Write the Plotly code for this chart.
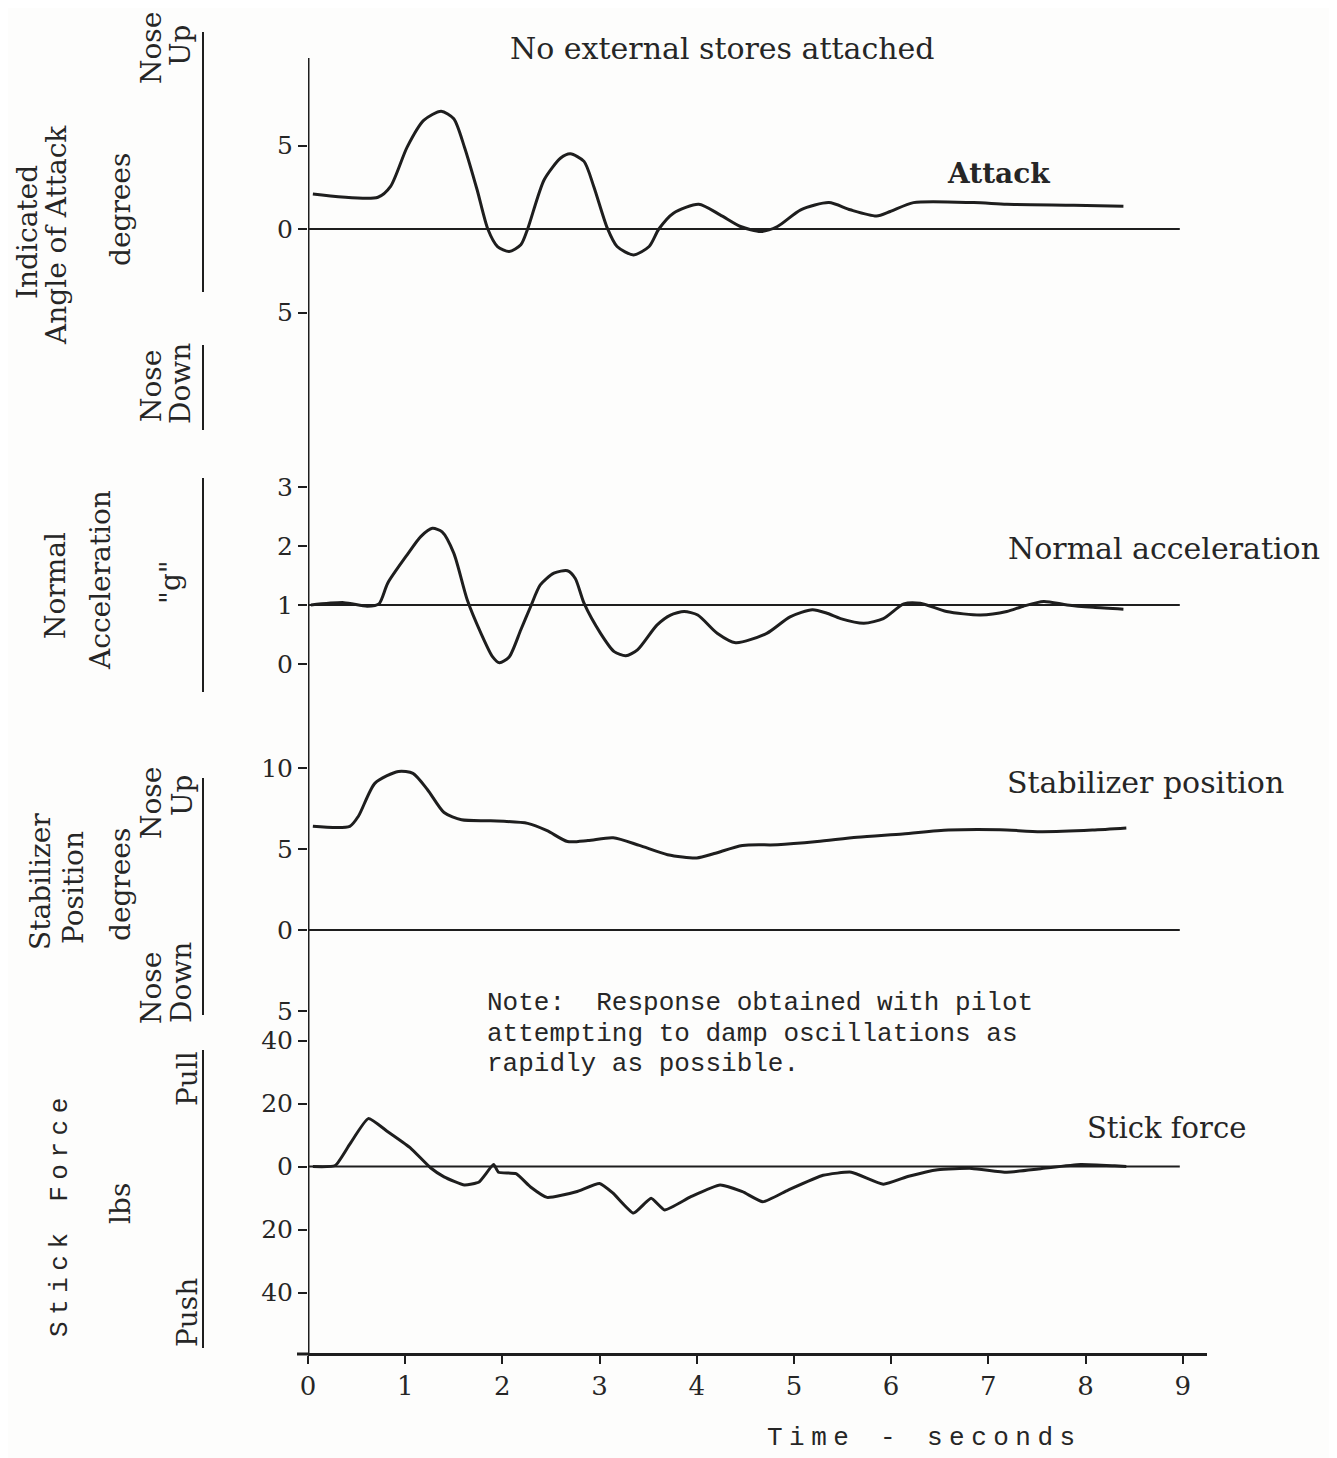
import plotly.graph_objects as go

# ---------------- data ----------------
attack_t = [0.05, 0.72, 0.85, 1.02, 1.19, 1.37, 1.50, 1.61, 1.74, 1.85, 1.95, 2.07, 2.19, 2.26,
            2.43, 2.60, 2.70, 2.84, 2.94, 3.08, 3.18, 3.35, 3.51, 3.61, 3.76, 4.02, 4.24, 4.45,
            4.66, 4.83, 5.07, 5.36, 5.58, 5.85, 5.99, 6.23, 6.85, 7.19, 7.88, 8.39]
attack_v = [2.1, 1.9, 2.55, 4.9, 6.5, 7.05, 6.6, 4.9, 2.35, 0.0, -1.05, -1.35, -0.95, 0.0,
            2.95, 4.25, 4.5, 4.05, 2.55, 0.05, -1.05, -1.55, -1.05, 0.0, 0.95, 1.48, 0.85, 0.15,
            -0.15, 0.15, 1.15, 1.58, 1.15, 0.78, 1.05, 1.58, 1.58, 1.48, 1.42, 1.36]

accel_t = [0.03, 0.37, 0.61, 0.73, 0.82, 1.02, 1.16, 1.28, 1.38, 1.50, 1.64, 1.78, 1.90, 1.97,
           2.07, 2.19, 2.29, 2.39, 2.53, 2.67, 2.75, 2.84, 3.01, 3.15, 3.27, 3.39, 3.59, 3.73,
           3.87, 4.01, 4.21, 4.40, 4.72, 4.96, 5.19, 5.34, 5.48, 5.72, 5.92, 6.13, 6.30, 6.57,
           6.92, 7.19, 7.36, 7.57, 7.81, 8.08, 8.39]
accel_v = [1.0, 1.04, 0.98, 1.02, 1.37, 1.85, 2.16, 2.30, 2.24, 1.88, 1.08, 0.52, 0.12, 0.02,
           0.12, 0.58, 0.97, 1.34, 1.54, 1.58, 1.45, 1.03, 0.52, 0.21, 0.14, 0.24, 0.66, 0.83,
           0.89, 0.83, 0.52, 0.36, 0.52, 0.80, 0.92, 0.86, 0.77, 0.69, 0.77, 1.02, 1.03, 0.89,
           0.83, 0.89, 0.98, 1.06, 1.0, 0.96, 0.93]

stab_t = [0.05, 0.43, 0.52, 0.69, 0.93, 1.08, 1.23, 1.40, 1.58, 1.88, 2.26, 2.46, 2.67, 2.88,
          3.14, 3.41, 3.70, 4.00, 4.18, 4.47, 4.83, 5.24, 5.65, 6.12, 6.59, 7.12, 7.54, 8.07, 8.42]
stab_v = [6.4, 6.4, 7.04, 9.07, 9.78, 9.67, 8.66, 7.25, 6.8, 6.74, 6.58, 6.13, 5.46, 5.52,
          5.69, 5.22, 4.65, 4.45, 4.72, 5.22, 5.26, 5.46, 5.73, 5.93, 6.17, 6.19, 6.07, 6.17, 6.30]

stick_t = [0.05, 0.28, 0.43, 0.62, 0.81, 1.05, 1.26, 1.40, 1.61, 1.76, 1.91, 1.96, 2.14, 2.29,
           2.46, 2.76, 3.00, 3.14, 3.35, 3.53, 3.67, 3.94, 4.24, 4.47, 4.68, 4.94, 5.30, 5.59,
           5.92, 6.18, 6.48, 6.83, 7.19, 7.54, 7.95, 8.30, 8.42]
stick_v = [0.0, 0.3, 7.1, 15.2, 11.3, 6.0, -0.4, -3.3, -5.9, -4.9, 0.6, -1.8, -2.3, -6.5,
           -9.8, -8.0, -5.4, -8.5, -14.8, -10.1, -13.8, -9.6, -5.9, -8.0, -11.2, -7.5, -2.8, -1.8,
           -5.6, -3.1, -1.0, -0.6, -1.8, -0.7, 0.6, 0.2, 0.0]

time_ticks = [0, 1, 2, 3, 4, 5, 6, 7, 8, 9]
attack_ticks = [5, 0, -5]
attack_ticktext = ["5", "0", "5"]
accel_ticks = [0, 1, 2, 3]
accel_ticktext = ["0", "1", "2", "3"]
stab_ticks = [10, 5, 0, -5]
stab_ticktext = ["10", "5", "0", "5"]
stick_ticks = [40, 20, 0, -20, -40]
stick_ticktext = ["40", "20", "0", "20", "40"]

ref_end = 8.97  # reference lines end near 9 s

# ---------------- layout geometry (page pixels) ----------------
PAGE_W, PAGE_H = 1337, 1458
OFF = 8                     # default body margin of the html page
W, H = PAGE_W - OFF, PAGE_H - OFF
L, R, T, B = 308, 1207, 40, 1354
INK = "#1e1e1e"
TXT = "#262626"
SERIF = "DejaVu Serif"
MONO = "Liberation Mono"


def px_x(x):
    return (x - L) / (R - L)


def px_y(y):
    return (B - y) / (B - T)


def domain(zero_px, scale, lo, hi, zero_val=0.0):
    top = zero_px - (hi - zero_val) * scale
    bot = zero_px - (lo - zero_val) * scale
    return [px_y(bot), px_y(top)]


fig = go.Figure()

ref_style = dict(color=INK, width=2)

panels = [
    ("y", attack_t, attack_v, 0, 0.7),
    ("y2", accel_t, accel_v, 1, 0.7),
    ("y3", stab_t, stab_v, 0, 0.7),
    ("y4", stick_t, stick_v, 0, 0.45),
]
for yref, tt, vv, refv, sm in panels:
    fig.add_trace(go.Scatter(x=[0, ref_end], y=[refv, refv], mode="lines", line=ref_style,
                             yaxis=yref, showlegend=False, hoverinfo="skip"))
    fig.add_trace(go.Scatter(x=tt, y=vv, mode="lines",
                             line=dict(color=INK, width=3, shape="spline", smoothing=sm),
                             yaxis=yref, showlegend=False))

yax_common = dict(showgrid=False, zeroline=False, showline=False, ticks="outside",
                  ticklen=9, tickwidth=2, tickcolor=INK, anchor="x",
                  tickfont=dict(family=SERIF, size=25, color=TXT))

fig.update_layout(
    width=W, height=H,
    margin=dict(l=L - OFF, r=PAGE_W - R, t=T - OFF, b=PAGE_H - B),
    paper_bgcolor="#fdfdfc", plot_bgcolor="#fdfdfc",
    showlegend=False,
    xaxis=dict(range=[0, 9.25], tickvals=time_ticks, ticks="outside", ticklen=8,
               tickwidth=2, tickcolor=INK, showline=True, linewidth=3, linecolor=INK,
               showgrid=False, zeroline=False, anchor="free", position=0,
               tickfont=dict(family=SERIF, size=26, color=TXT)),
    yaxis=dict(domain=domain(229, 16.7, -5.5, 7.6), range=[-5.5, 7.6],
               tickvals=attack_ticks, ticktext=attack_ticktext, **yax_common),
    yaxis2=dict(domain=domain(605, 59, -0.3, 3.05, zero_val=1), range=[-0.3, 3.05],
                tickvals=accel_ticks, ticktext=accel_ticktext, **yax_common),
    yaxis3=dict(domain=domain(930, 16.2, -5.6, 10.3), range=[-5.6, 10.3],
                tickvals=stab_ticks, ticktext=stab_ticktext, **yax_common),
    yaxis4=dict(domain=domain(1166.5, 3.15, -42, 42), range=[-42, 42],
                tickvals=stick_ticks, ticktext=stick_ticktext, **yax_common),
)

# main vertical axis line
fig.add_shape(type="line", xref="x", yref="paper", x0=0, x1=0, y0=0, y1=px_y(58),
              line=dict(color=INK, width=3))
# small extension of the time axis to the left of the vertical axis
fig.add_shape(type="line", xref="paper", yref="paper", x0=px_x(297), x1=px_x(308),
              y0=0, y1=0, line=dict(color=INK, width=3))

# left separator rules
for y0, y1 in [(32, 292), (345, 430), (478, 692), (778, 1015), (1050, 1348)]:
    fig.add_shape(type="line", xref="paper", yref="paper", x0=px_x(203), x1=px_x(203),
                  y0=px_y(y1), y1=px_y(y0), line=dict(color=INK, width=2))


def ann(text, x, y, size=28, rot=0, family=SERIF, xanchor="center", weight="normal"):
    fig.add_annotation(text=text, x=px_x(x), y=px_y(y), xref="paper", yref="paper",
                       showarrow=False, textangle=rot, xanchor=xanchor, yanchor="middle",
                       font=dict(family=family, size=size, color=TXT, weight=weight))


def spaced(s, sep="\u2005"):
    return sep.join(list(s))


# left rotated labels
ann("Indicated", 27, 232, rot=-90)
ann("Angle of Attack", 57, 235, rot=-90)
ann("degrees", 120, 210, rot=-90)
ann("Nose", 151, 48, rot=-90)
ann("Up", 180, 45, rot=-90)
ann("Nose", 151, 386, rot=-90)
ann("Down", 180, 384, rot=-90)

ann("Normal", 55, 585, rot=-90)
ann("Acceleration", 100, 580, rot=-90)
ann("\"g\"", 170, 582, rot=-90)

ann("Stabilizer", 40, 882, rot=-90)
ann("Position", 73, 888, rot=-90)
ann("degrees", 120, 885, rot=-90)
ann("Nose", 151, 803, rot=-90)
ann("Up", 182, 795, rot=-90)
ann("Nose", 151, 988, rot=-90)
ann("Down", 182, 983, rot=-90)

ann(spaced("Stick") + "  " + spaced("Force"), 60, 1218, size=26, rot=-90, family=MONO)
ann("lbs", 120, 1204, rot=-90)
ann("Pull", 187, 1079, rot=-90)
ann("Push", 187, 1313, rot=-90)

# in-plot labels
ann("No external stores attached", 508, 48, size=30, xanchor="left")
ann("Attack", 998, 173, size=28, weight="bold")
ann("Normal acceleration", 1006, 548, size=30, xanchor="left")
ann("Stabilizer position", 1005, 783, size=30, xanchor="left")
ann("Stick force", 1085, 1128, size=29, xanchor="left")

ann("Note:  Response obtained with pilot", 485, 1003, size=26, family=MONO, xanchor="left")
ann("attempting to damp oscillations as", 485, 1034, size=26, family=MONO, xanchor="left")
ann("rapidly as possible.", 485, 1064, size=26, family=MONO, xanchor="left")

ann(spaced("Time") + "  -  " + spaced("seconds"), 765, 1438, size=26,
    family=MONO, xanchor="left")

fig.write_html("out.html")
